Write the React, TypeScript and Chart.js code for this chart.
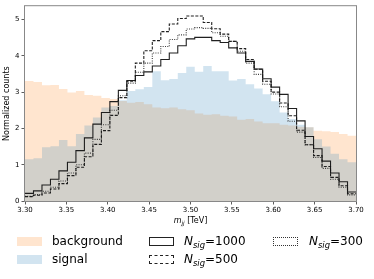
import React, { useEffect, useRef } from "react";
import { Chart, registerables } from "chart.js";

Chart.register(...registerables);

// ---- data ----
const X_MIN = 3.3;
const X_MAX = 3.7;
const N_BINS = 39;
const X_TICKS = [3.3, 3.35, 3.4, 3.45, 3.5, 3.55, 3.6, 3.65, 3.7];
const Y_TICKS = [0, 1, 2, 3, 4, 5];
const Y_MAX = 5.37;

const BACKGROUND = [
  3.31, 3.28, 3.19, 3.2, 3.09, 2.99, 3.03, 2.92, 2.9, 2.84, 2.81, 2.76, 2.71,
  2.73, 2.67, 2.58, 2.56, 2.58, 2.53, 2.5, 2.41, 2.38, 2.39, 2.35, 2.33, 2.24,
  2.26, 2.19, 2.14, 2.14, 2.1, 2.08, 2.05, 2.03, 1.94, 1.92, 1.9, 1.85, 1.8,
];
const SIGNAL = [
  1.15, 1.18, 1.48, 1.51, 1.68, 1.51, 1.85, 2.08, 2.3, 2.58, 2.62, 2.78, 3.03,
  3.08, 3.14, 3.58, 3.33, 3.36, 3.53, 3.7, 3.56, 3.72, 3.58, 3.58, 3.32, 3.36,
  3.22, 3.1, 2.94, 2.75, 2.44, 2.26, 2.1, 2.03, 1.7, 1.5, 1.3, 1.15, 1.07,
];
const NSIG_1000 = [
  0.21, 0.28, 0.44, 0.6, 0.83, 1.07, 1.39, 1.74, 2.12, 2.44, 2.74, 3.05, 3.32,
  3.46, 3.56, 3.72, 3.9, 4.08, 4.28, 4.47, 4.51, 4.51, 4.42, 4.37, 4.22, 4.08,
  3.85, 3.64, 3.37, 3.14, 2.94, 2.55, 2.21, 1.78, 1.44, 1.1, 0.77, 0.53, 0.25,
];
const NSIG_500 = [
  0.12, 0.16, 0.22, 0.33, 0.48, 0.7, 0.93, 1.22, 1.56, 1.94, 2.36, 2.85, 3.3,
  3.8, 4.14, 4.42, 4.67, 4.88, 5.03, 5.1, 5.1, 4.92, 4.75, 4.6, 4.4, 4.2, 3.9,
  3.63, 3.3, 3.0, 2.7, 2.35, 1.95, 1.55, 1.25, 0.95, 0.65, 0.42, 0.2,
];
const NSIG_300 = [
  0.13, 0.18, 0.27, 0.38, 0.55, 0.77, 1.0, 1.32, 1.7, 2.1, 2.5, 2.9, 3.25,
  3.55, 3.8, 4.08, 4.26, 4.45, 4.58, 4.74, 4.78, 4.76, 4.64, 4.54, 4.4, 4.13,
  3.8, 3.49, 3.22, 2.95, 2.6, 2.2, 1.9, 1.55, 1.2, 0.9, 0.6, 0.38, 0.17,
];

const BG_COLOR = "rgba(255,127,14,0.2)";
const SIG_COLOR = "rgba(31,119,180,0.2)";

const EDGES = Array.from(
  { length: N_BINS + 1 },
  (_, i) => X_MIN + ((X_MAX - X_MIN) * i) / N_BINS
);

function toSteps(values: number[]) {
  const pts = values.map((v, i) => ({ x: EDGES[i], y: v }));
  pts.push({ x: EDGES[values.length], y: values[values.length - 1] });
  return pts;
}

const framePlugin = {
  id: "frame",
  afterDraw(chart: any) {
    const { ctx, chartArea } = chart;
    const { left, top, right, bottom } = chartArea;
    ctx.save();
    ctx.strokeStyle = "#888";
    ctx.lineWidth = 1;
    ctx.strokeRect(left - 0.5, top - 0.5, right - left + 1, bottom - top + 1);
    ctx.restore();
  },
};

const FONT = '"DejaVu Sans", sans-serif';

function NLabel({ n }: { n: string }) {
  return (
    <span>
      <i>N</i>
      <i
        style={{
          fontSize: "0.7em",
          position: "relative",
          top: "0.3em",
          lineHeight: 0,
        }}
      >
        sig
      </i>
      ={n}
    </span>
  );
}

export default function App() {
  const ref = useRef<HTMLCanvasElement>(null);

  useEffect(() => {
    if (!ref.current) return;
    const lineBase = {
      type: "line" as const,
      fill: false,
      stepped: "before" as const,
      pointRadius: 0,
      borderWidth: 1.1,
      order: 0,
    };
    const chart = new Chart(ref.current, {
      type: "line",
      data: {
        datasets: [
          {
            ...lineBase,
            label: "Nsig=1000",
            data: toSteps(NSIG_1000),
            borderColor: "rgba(20,20,20,0.95)",
          },
          {
            ...lineBase,
            label: "Nsig=500",
            data: toSteps(NSIG_500),
            borderColor: "rgba(20,20,20,0.95)",
            borderDash: [3, 1.5],
          },
          {
            ...lineBase,
            label: "Nsig=300",
            data: toSteps(NSIG_300),
            borderColor: "rgba(40,40,40,0.9)",
            borderDash: [1, 1.3],
          },
          {
            type: "line",
            label: "signal",
            data: toSteps(SIGNAL),
            stepped: "before",
            fill: "origin",
            backgroundColor: SIG_COLOR,
            borderWidth: 0,
            borderColor: "rgba(0,0,0,0)",
            pointRadius: 0,
            order: 1,
          },
          {
            type: "line",
            label: "background",
            data: toSteps(BACKGROUND),
            stepped: "before",
            fill: "origin",
            backgroundColor: BG_COLOR,
            borderWidth: 0,
            borderColor: "rgba(0,0,0,0)",
            pointRadius: 0,
            order: 2,
          },
        ],
      },
      options: {
        responsive: false,
        animation: false,
        events: [],
        layout: { padding: { top: 5, right: 18, left: 0, bottom: 0 } },
        plugins: {
          legend: { display: false },
          tooltip: { enabled: false },
        },
        scales: {
          x: {
            type: "linear",
            min: X_MIN,
            max: X_MAX,
            afterFit: (s: any) => {
              s.height = 19;
            },
            afterBuildTicks: (s: any) => {
              s.ticks = X_TICKS.map((v) => ({ value: v }));
            },
            ticks: {
              font: { family: FONT, size: 7 },
              color: "#000",
              padding: 1,
              maxRotation: 0,
              callback: (v: any) => Number(v).toFixed(2),
            },
            grid: {
              display: true,
              drawOnChartArea: false,
              drawTicks: true,
              tickLength: 3.5,
              tickColor: "#333",
              tickWidth: 0.8,
            },
            border: { display: false },
          },
          y: {
            type: "linear",
            min: 0,
            max: Y_MAX,
            afterFit: (s: any) => {
              s.width = 25;
            },
            afterBuildTicks: (s: any) => {
              s.ticks = Y_TICKS.map((v) => ({ value: v }));
            },
            title: {
              display: true,
              text: "Normalized counts",
              font: { family: FONT, size: 8 },
              color: "#000",
              padding: { top: 2, bottom: 0 },
            },
            ticks: {
              font: { family: FONT, size: 7 },
              color: "#000",
              padding: 2,
              callback: (v: any) => String(v),
            },
            grid: {
              display: true,
              drawOnChartArea: false,
              drawTicks: true,
              tickLength: 3.5,
              tickColor: "#333",
              tickWidth: 0.8,
            },
            border: { display: false },
          },
        },
      },
      plugins: [framePlugin],
    });
    return () => chart.destroy();
  }, []);

  const legendText: React.CSSProperties = {
    position: "absolute",
    fontSize: 12,
    lineHeight: "14px",
    whiteSpace: "nowrap",
    color: "#000",
  };
  const patch = (
    left: number,
    top: number,
    extra: React.CSSProperties
  ): React.CSSProperties => ({
    position: "absolute",
    left,
    top,
    width: 25,
    height: 8.5,
    boxSizing: "border-box",
    ...extra,
  });

  return (
    <div
      style={{
        position: "fixed",
        left: 0,
        top: 0,
        width: 374,
        height: 279,
        background: "#fff",
        fontFamily: FONT,
        overflow: "hidden",
      }}
    >
      <canvas
        ref={ref}
        width={374}
        height={220}
        style={{ position: "absolute", left: 0, top: 0, width: 374, height: 220 }}
      />
      <div
        style={{
          position: "absolute",
          left: 25,
          width: 331,
          top: 216,
          textAlign: "center",
          fontSize: 8,
          lineHeight: "10px",
          color: "#000",
        }}
      >
        <i>m</i>
        <i
          style={{
            fontSize: "0.7em",
            position: "relative",
            top: "0.3em",
            lineHeight: 0,
          }}
        >
          jj
        </i>{" "}
        [TeV]
      </div>

      {/* legend */}
      <div style={patch(17, 237, { background: BG_COLOR })} />
      <div style={{ ...legendText, left: 52, top: 234 }}>background</div>
      <div style={patch(17, 255, { background: SIG_COLOR })} />
      <div style={{ ...legendText, left: 52, top: 252 }}>signal</div>

      <div style={patch(149, 237, { border: "1px solid #222" })} />
      <div style={{ ...legendText, left: 184, top: 234 }}>
        <NLabel n="1000" />
      </div>
      <div style={patch(149, 255, { border: "1px dashed #222" })} />
      <div style={{ ...legendText, left: 184, top: 252 }}>
        <NLabel n="500" />
      </div>
      <div style={patch(273, 237, { border: "1px dotted #333" })} />
      <div style={{ ...legendText, left: 309, top: 234 }}>
        <NLabel n="300" />
      </div>
    </div>
  );
}
